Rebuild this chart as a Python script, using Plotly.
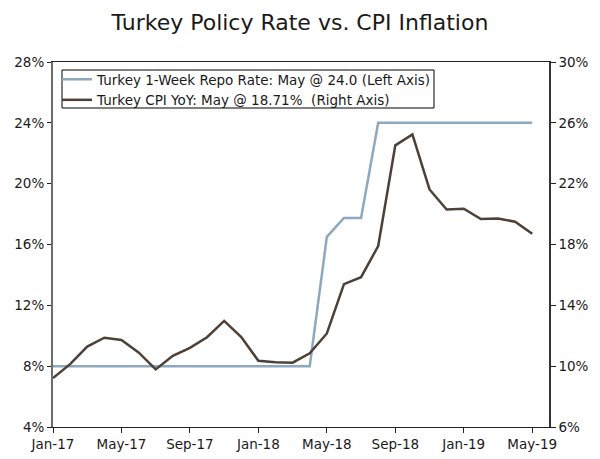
import plotly.graph_objects as go

months = ["Jan-17","Feb-17","Mar-17","Apr-17","May-17","Jun-17","Jul-17","Aug-17","Sep-17","Oct-17","Nov-17","Dec-17",
          "Jan-18","Feb-18","Mar-18","Apr-18","May-18","Jun-18","Jul-18","Aug-18","Sep-18","Oct-18","Nov-18","Dec-18",
          "Jan-19","Feb-19","Mar-19","Apr-19","May-19"]
repo_rate = [8.0]*16 + [16.5, 17.75, 17.75] + [24.0]*10
cpi_yoy = [9.22, 10.13, 11.29, 11.87, 11.72, 10.90, 9.79, 10.68, 11.20, 11.90, 12.98, 11.92,
           10.35, 10.26, 10.23, 10.85, 12.15, 15.39, 15.85, 17.90, 24.52, 25.24, 21.62, 20.30,
           20.35, 19.67, 19.71, 19.50, 18.71]
tick_idx = [0, 4, 8, 12, 16, 20, 24, 28]
tick_labels = [months[i] for i in tick_idx]
left_ticks = [4, 8, 12, 16, 20, 24, 28]
right_ticks = [6, 10, 14, 18, 22, 26, 30]

x = list(range(len(months)))
FONT = "Verdana, DejaVu Sans, sans-serif"
TXT = "#1a1a1a"
TS = 13.5

W, H = 600, 459
ML, MR, MT, MB = 53, 51, 62, 32
PW, PH = W - ML - MR, H - MT - MB

def px_x(p):
    return (p - ML) / PW

def px_y(p):
    return (H - MB - p) / PH

fig = go.Figure()
fig.add_trace(go.Scatter(x=x, y=repo_rate, mode="lines", name="Turkey 1-Week Repo Rate: May @ 24.0 (Left Axis)",
                         line=dict(color="#8ea8bd", width=2.5), yaxis="y"))
fig.add_trace(go.Scatter(x=x, y=cpi_yoy, mode="lines", name="Turkey CPI YoY: May @ 18.71%  (Right Axis)",
                         line=dict(color="#4d4137", width=2.5), yaxis="y2"))

xr = [0, 28.98]
fig.update_layout(
    width=W, height=H,
    margin=dict(l=ML, r=MR, t=MT, b=MB, autoexpand=False),
    paper_bgcolor="white", plot_bgcolor="white",
    font=dict(family=FONT, size=TS, color=TXT),
    title=dict(text="Turkey Policy Rate vs. CPI Inflation", x=0.5, xanchor="center", y=0.952, yanchor="middle",
               font=dict(family=FONT, size=22, color=TXT)),
    showlegend=True,
    legend=dict(x=px_x(57), y=px_y(64), xanchor="left", yanchor="top", bgcolor="rgba(0,0,0,0)",
                borderwidth=0, font=dict(family=FONT, size=TS, color=TXT),
                tracegroupgap=0, itemwidth=30),
    shapes=[dict(type="rect", xref="paper", yref="paper", x0=px_x(62), x1=px_x(434), y0=px_y(108), y1=px_y(70),
                 line=dict(color="#000000", width=1), fillcolor="white", layer="below")],
    xaxis=dict(range=xr, tickmode="array", tickvals=tick_idx, ticktext=tick_labels, automargin=False,
               showgrid=False, zeroline=False, showline=True, linecolor="#222222", linewidth=1, mirror=True,
               ticks="outside", ticklen=5, tickcolor="#222222", tickwidth=1,
               tickfont=dict(family=FONT, size=TS, color=TXT)),
    xaxis2=dict(range=xr, overlaying="x", tickmode="array", tickvals=tick_idx, showticklabels=False,
                showgrid=False, zeroline=False, showline=False, ticks="inside", ticklen=5, automargin=False,
                tickcolor="#222222", side="bottom"),
    yaxis=dict(range=[4, 28], tickmode="array", tickvals=left_ticks, ticktext=[f"{v}%" for v in left_ticks],
               showgrid=False, zeroline=False, showline=True, linecolor="#6b6b6b", linewidth=2, automargin=False,
               ticks="outside", ticklen=4, tickcolor="#222222", tickwidth=1,
               tickfont=dict(family=FONT, size=TS, color=TXT)),
    yaxis3=dict(range=[4, 28], overlaying="y", side="left", tickmode="array", tickvals=left_ticks,
                showticklabels=False, showgrid=False, zeroline=False, showline=False, automargin=False,
                ticks="inside", ticklen=5, tickcolor="#222222"),
    yaxis2=dict(range=[6, 30], overlaying="y", side="right", tickmode="array", tickvals=right_ticks,
                ticktext=[f"{v}%" for v in right_ticks], automargin=False,
                showgrid=False, zeroline=False, showline=True, linecolor="#333333", linewidth=1.5,
                ticks="outside", ticklen=5, tickcolor="#222222", tickwidth=1,
                tickfont=dict(family=FONT, size=TS, color=TXT)),
    yaxis4=dict(range=[6, 30], overlaying="y", side="right", tickmode="array", tickvals=right_ticks,
                showticklabels=False, showgrid=False, zeroline=False, showline=False, automargin=False,
                ticks="inside", ticklen=5, tickcolor="#222222"),
)

fig.write_html("out.html", config={"displayModeBar": False},
               post_script="document.body.style.margin='0px';")
